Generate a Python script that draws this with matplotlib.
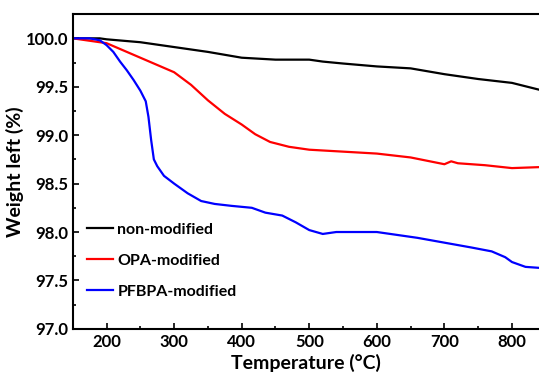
import matplotlib
matplotlib.use("Agg")
import matplotlib.pyplot as plt
from matplotlib.ticker import MultipleLocator

# Temperature (°C) / weight left (%)
t_non = [150, 190, 200, 250, 300, 350, 400, 450, 500, 520, 550, 600, 650, 700, 750, 800, 840]
w_non = [100.0, 100.0, 99.99, 99.96, 99.91, 99.86, 99.80, 99.78, 99.78, 99.76, 99.74, 99.71, 99.69, 99.63, 99.58, 99.54, 99.47]

t_opa = [150, 200, 250, 300, 325, 350, 375, 400, 420, 442, 470, 500, 550, 600, 650, 700, 710, 720, 760, 800, 840]
w_opa = [100.0, 99.95, 99.80, 99.65, 99.52, 99.36, 99.22, 99.11, 99.01, 98.93, 98.88, 98.85, 98.83, 98.81, 98.77, 98.70, 98.73, 98.71, 98.69, 98.66, 98.67]

t_pf = [150, 175, 190, 200, 210, 220, 230, 240, 250, 258, 262, 266, 270, 275, 285, 300, 320, 340, 360,
        385, 415, 435, 460, 480, 500, 520, 540, 560, 600, 630, 660, 700, 740, 770, 790, 800, 820, 840]
w_pf = [100.0, 100.0, 99.98, 99.93, 99.86, 99.76, 99.67, 99.57, 99.46, 99.35, 99.19, 98.95, 98.75, 98.68,
        98.58, 98.50, 98.40, 98.32, 98.29, 98.27, 98.25, 98.20, 98.17, 98.10, 98.02, 97.98, 98.00, 98.00,
        98.00, 97.97, 97.94, 97.89, 97.84, 97.80, 97.74, 97.69, 97.64, 97.63]

plt.rcParams['font.family'] = ['Lato', 'DejaVu Sans']
plt.rcParams['font.weight'] = 'bold'

fig = plt.figure(figsize=(5.39, 3.72), dpi=100)
ax = fig.add_axes([0.135, 0.116, 0.865, 0.846])

ax.plot(t_non, w_non, color='black', lw=1.6, label='non-modified')
ax.plot(t_opa, w_opa, color='#ff0000', lw=1.6, label='OPA-modified')
ax.plot(t_pf, w_pf, color='#0000ff', lw=1.6, label='PFBPA-modified')

ax.set_xlim(150, 840)
ax.set_ylim(97.0, 100.25)
ax.xaxis.set_major_locator(MultipleLocator(100))
ax.xaxis.set_minor_locator(MultipleLocator(50))
ax.yaxis.set_major_locator(MultipleLocator(0.5))
ax.yaxis.set_minor_locator(MultipleLocator(0.25))
ax.tick_params(which='both', direction='in', labelsize=12, width=1.2)
ax.tick_params(which='major', length=4)
ax.tick_params(which='minor', length=2.5)
ax.yaxis.set_major_formatter(matplotlib.ticker.FormatStrFormatter('%.1f'))
ax.spines['right'].set_visible(False)
for s in ['left', 'top', 'bottom']:
    ax.spines[s].set_linewidth(1.5)

ax.set_xlabel('Temperature (°C)', fontsize=14, fontweight='bold', labelpad=3)
ax.set_ylabel('Weight left (%)', fontsize=14, fontweight='bold', labelpad=1)

ax.legend(loc='lower left', frameon=False, fontsize=11.5, handlelength=1.6,
          handletextpad=0.3, labelspacing=1.05, bbox_to_anchor=(0.0, 0.05))

fig.savefig('out.png', dpi=100)
